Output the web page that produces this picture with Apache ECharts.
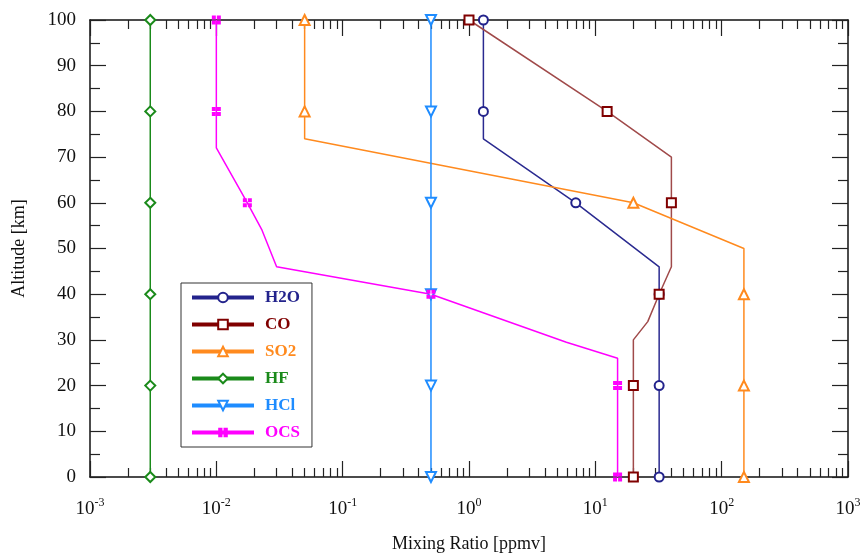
<!DOCTYPE html>
<html>
<head>
<meta charset="utf-8">
<script src="https://cdn.jsdelivr.net/npm/echarts@6/dist/echarts.min.js"></script>
<style>
html, body { margin: 0; padding: 0; background: #fff; }
#chart { width: 863px; height: 556px; }
</style>
</head>
<body>
<div id="chart"></div>
<script>
// profile vertices: altitude [km] and mixing ratio [ppmv]
const h2oAlt = [100, 80, 74, 60, 46, 40, 20, 0]
const h2oVal = [1.3, 1.3, 1.3, 7, 32, 32, 32, 32]
const coAlt = [100, 80, 70, 60, 46, 40, 34, 30, 20, 0]
const coVal = [1.0, 12.4, 40, 40, 40, 32, 26, 20, 20, 20]
const so2Alt = [100, 80, 74, 60, 50, 40, 20, 0]
const so2Val = [0.05, 0.05, 0.05, 20, 150, 150, 150, 150]
const hfAlt = [100, 80, 60, 40, 20, 0]
const hfVal = [0.003, 0.003, 0.003, 0.003, 0.003, 0.003]
const hclAlt = [100, 80, 60, 40, 20, 0]
const hclVal = [0.5, 0.5, 0.5, 0.5, 0.5, 0.5]
const ocsAlt = [100, 80, 72, 60, 54, 46, 40, 29.5, 26, 20, 0]
const ocsVal = [0.01, 0.01, 0.01, 0.0176, 0.023, 0.030, 0.5, 5.9, 15, 15, 15]

// altitudes that carry a marker
const markerAlts = [0, 20, 40, 60, 80, 100]

const serif = 'Liberation Serif'
const ocsSymbol = 'path://M0 0h4v4h-4z M5 0h4v4h-4z M0 5h4v4h-4z M5 5h4v4h-4z'

function profile(alts, vals) {
  return alts.map((a, i) => markerAlts.includes(a)
    ? [vals[i], a]
    : { value: [vals[i], a], symbol: 'none' })
}

const gases = [
  { name: 'H2O', alt: h2oAlt, val: h2oVal, color: '#23238c', line: '#2a2a90', symbol: 'emptyCircle', size: 9 },
  { name: 'CO', alt: coAlt, val: coVal, color: '#800000', line: '#a04a4a', symbol: 'emptyRect', size: 9 },
  { name: 'SO2', alt: so2Alt, val: so2Val, color: '#ff8a1e', line: '#ff8a1e', symbol: 'emptyTriangle', size: 10 },
  { name: 'HF', alt: hfAlt, val: hfVal, color: '#1a8a1a', line: '#1a8a1a', symbol: 'emptyDiamond', size: 10 },
  { name: 'HCl', alt: hclAlt, val: hclVal, color: '#1e8cff', line: '#1e8cff', symbol: 'emptyTriangle', size: 10, rotate: 180 },
  { name: 'OCS', alt: ocsAlt, val: ocsVal, color: '#ff00ff', line: '#ff00ff', symbol: ocsSymbol, size: 9 },
]

const tickStyle = { color: '#222', width: 1.2 }

function xAxisDef(pos, labels) {
  return {
    type: 'log',
    logBase: 10,
    min: 0.001,
    max: 1000,
    position: pos,
    axisLine: { onZero: false, lineStyle: { color: '#111', width: 1.5 } },
    axisTick: { inside: true, length: 16, lineStyle: tickStyle },
    minorTick: { show: true, splitNumber: 9, length: 9, lineStyle: tickStyle },
    splitLine: { show: false },
    minorSplitLine: { show: false },
    axisLabel: labels ? {
      margin: 20,
      formatter: v => '{b|10}{sup|' + Math.round(Math.log10(v)) + '}',
      rich: {
        b: { fontFamily: serif, fontSize: 19, color: '#111' },
        sup: { fontFamily: serif, fontSize: 12, color: '#111', padding: [0, 0, 12, 0] },
      },
    } : { show: false },
    name: labels ? 'Mixing Ratio [ppmv]' : '',
    nameLocation: 'middle',
    nameGap: 58,
    nameTextStyle: { fontFamily: serif, fontSize: 18, color: '#111' },
  }
}

function yAxisDef(pos, labels) {
  return {
    type: 'value',
    min: 0,
    max: 100,
    interval: 10,
    position: pos,
    axisLine: { show: true, onZero: false, lineStyle: { color: '#111', width: 1.5 } },
    axisTick: { show: true, inside: true, length: 16, lineStyle: tickStyle },
    minorTick: { show: true, splitNumber: 2, length: 10, lineStyle: tickStyle },
    splitLine: { show: false },
    axisLabel: labels ? { margin: 14, fontFamily: serif, fontSize: 19, color: '#111' } : { show: false },
    name: labels ? 'Altitude [km]' : '',
    nameLocation: 'middle',
    nameGap: 62,
    nameTextStyle: { fontFamily: serif, fontSize: 18, color: '#111' },
  }
}

const chart = echarts.init(document.getElementById('chart'))
chart.setOption({
  animation: false,
  backgroundColor: '#fff',
  grid: { left: 90, right: 15, top: 20, bottom: 79, outerBoundsMode: 'none' },
  xAxis: [xAxisDef('bottom', true), xAxisDef('top', false)],
  yAxis: [yAxisDef('left', true), yAxisDef('right', false)],
  legend: {
    orient: 'vertical',
    left: 181,
    top: 283,
    padding: [6, 12, 6, 9],
    borderColor: '#333',
    borderWidth: 1,
    itemWidth: 62,
    itemHeight: 12,
    itemGap: 10,
    data: gases.map(g => ({
      name: g.name,
      lineStyle: { color: g.color, width: 4 },
      textStyle: { color: g.color, fontFamily: serif, fontWeight: 'bold', fontSize: 17, padding: [0, 0, 0, 6] },
    })),
  },
  series: gases.map(g => ({
    name: g.name,
    type: 'line',
    xAxisIndex: 0,
    yAxisIndex: 0,
    data: profile(g.alt, g.val),
    symbol: g.symbol,
    symbolSize: g.size,
    symbolRotate: g.rotate || 0,
    color: g.color,
    lineStyle: { color: g.line, width: 1.5 },
    itemStyle: { color: g.color, borderWidth: g.name === 'CO' ? 2 : 1.3 },
    emphasis: { disabled: true },
    silent: true,
  })),
})
</script>
</body>
</html>
